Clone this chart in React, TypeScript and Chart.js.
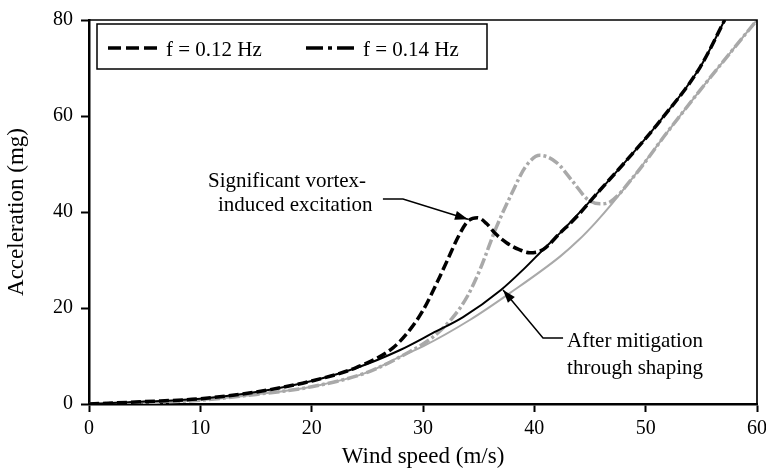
import { useEffect, useRef } from "react";
import { Chart, registerables } from "chart.js";

Chart.register(...registerables);

// ---- data (wind speed in m/s, acceleration in mg) ----
const speed012 = [0, 5, 10, 15, 20, 24, 27.3, 28.8, 30, 31.3, 32.2, 33.2, 34, 34.9, 35.7, 36.5, 37.5, 38.6, 39.6, 40.8, 42.3, 43.8, 45.3, 48.3, 51.3, 54.9, 57.1];
const accel012 = [0, 0.5, 1.1, 2.5, 4.8, 7.6, 11.7, 15.4, 19.5, 25.5, 30, 35, 38, 38.8, 37.6, 35.5, 33.6, 32.2, 31.5, 32.2, 35.6, 39, 43, 50.8, 59, 70.2, 80];

const speed012Mitigated = [0, 5, 10, 15, 20, 24, 27.9, 30.9, 33.6, 37, 39, 40.8, 42.3, 45.3, 48.3, 51.3, 54.9, 57.1];
const accel012Mitigated = [0, 0.5, 1.1, 2.5, 4.8, 7.5, 11.2, 14.8, 18.1, 23.75, 28, 32.2, 35.6, 43, 50.8, 59, 70.2, 80];

const speed014 = [0, 5, 10, 15, 20, 25, 28.8, 30.8, 32.7, 34, 35.1, 36.6, 38, 39.2, 40.5, 42, 43.5, 44.8, 45.9, 46.8, 48.9, 51.9, 54.9, 57.8, 60];
const accel014 = [0, 0.3, 0.8, 2, 3.6, 6.6, 10.9, 13.8, 18.1, 22.5, 27.9, 36.9, 44, 49.4, 51.8, 50.3, 46.2, 42.6, 41.7, 42.1, 47.3, 56.5, 65.4, 73.75, 80];

const speed014Mitigated = [0, 5, 10, 15, 20, 25, 27.9, 30, 34.2, 37.8, 42.3, 44, 45.5, 47, 48.9, 51.9, 54.9, 57.8, 60];
const accel014Mitigated = [0, 0.3, 0.8, 2, 3.6, 6.6, 9.8, 12, 17.5, 23.1, 30.7, 34.2, 37.8, 41.8, 47.3, 56.5, 65.4, 73.75, 80];

const xTicks = [0, 10, 20, 30, 40, 50, 60];
const yTicks = [0, 20, 40, 60, 80];
const legendLabels = ["f = 0.12 Hz", "f = 0.14 Hz"];
const vortexNote = ["Significant vortex-", "induced excitation"];
const mitigationNote = ["After mitigation", "through shaping"];
const xTitle = "Wind speed (m/s)";
const yTitle = "Acceleration (mg)";

const FONT = "'Liberation Serif', 'Times New Roman', serif";
const GRAY = "#a9a9a9";
const DASH = [10, 4];
const DASH_DOT = [11, 3, 3, 3];

const zip = (xs: number[], ys: number[]) => xs.map((x, i) => ({ x, y: ys[i] }));

function arrowHead(ctx: CanvasRenderingContext2D, fx: number, fy: number, tx: number, ty: number) {
  const ang = Math.atan2(ty - fy, tx - fx);
  const len = 13;
  const hw = 4.5;
  ctx.beginPath();
  ctx.moveTo(tx, ty);
  ctx.lineTo(tx - len * Math.cos(ang) + hw * Math.sin(ang), ty - len * Math.sin(ang) - hw * Math.cos(ang));
  ctx.lineTo(tx - len * Math.cos(ang) - hw * Math.sin(ang), ty - len * Math.sin(ang) + hw * Math.cos(ang));
  ctx.closePath();
  ctx.fill();
}

const decorPlugin = {
  id: "decor",
  afterDraw(chart: any) {
    const { ctx, chartArea: a, scales } = chart;
    const X = (v: number) => scales.x.getPixelForValue(v);
    const Y = (v: number) => scales.y.getPixelForValue(v);
    ctx.save();
    // top and right frame
    ctx.strokeStyle = "#000";
    ctx.lineWidth = 1.7;
    ctx.setLineDash([]);
    ctx.beginPath();
    ctx.moveTo(a.left, a.top);
    ctx.lineTo(a.right, a.top);
    ctx.lineTo(a.right, a.bottom);
    ctx.stroke();

    // legend box
    const lx = a.left + 8, ly = a.top + 4, lw = 390, lh = 45;
    ctx.fillStyle = "#fff";
    ctx.fillRect(lx, ly, lw, lh);
    ctx.lineWidth = 1.5;
    ctx.strokeRect(lx, ly, lw, lh);
    const midY = ly + 24;
    ctx.lineWidth = 3.5;
    ctx.lineCap = "butt";
    ctx.setLineDash([13, 5]);
    ctx.beginPath();
    ctx.moveTo(lx + 11, midY);
    ctx.lineTo(lx + 62, midY);
    ctx.stroke();
    ctx.setLineDash([17, 5, 4, 5]);
    ctx.beginPath();
    ctx.moveTo(lx + 209, midY);
    ctx.lineTo(lx + 258, midY);
    ctx.stroke();
    ctx.setLineDash([]);
    ctx.fillStyle = "#000";
    ctx.font = `21px ${FONT}`;
    ctx.textBaseline = "alphabetic";
    ctx.textAlign = "left";
    ctx.fillText(legendLabels[0], lx + 69, ly + 32);
    ctx.fillText(legendLabels[1], lx + 266, ly + 32);

    // vortex annotation
    ctx.fillText(vortexNote[0], X(10.69), Y(45.2));
    ctx.fillText(vortexNote[1], X(11.59), Y(40.2));
    ctx.lineWidth = 1.5;
    ctx.beginPath();
    ctx.moveTo(X(26.4), Y(42.7));
    ctx.lineTo(X(28.2), Y(42.7));
    ctx.lineTo(X(34.04), Y(38.5));
    ctx.stroke();
    arrowHead(ctx, X(28.2), Y(42.7), X(34.04), Y(38.5));

    // mitigation annotation
    ctx.fillText(mitigationNote[0], X(42.94), Y(11.875));
    ctx.fillText(mitigationNote[1], X(42.94), Y(6.25));
    ctx.beginPath();
    ctx.moveTo(X(42.58), Y(13.75));
    ctx.lineTo(X(40.78), Y(13.75));
    ctx.lineTo(X(37.19), Y(23.75));
    ctx.stroke();
    arrowHead(ctx, X(40.78), Y(13.75), X(37.19), Y(23.75));
    ctx.restore();
  },
};

export default function App() {
  const ref = useRef<HTMLCanvasElement | null>(null);
  useEffect(() => {
    if (!ref.current) return;
    const common = { pointRadius: 0, borderCapStyle: "butt", cubicInterpolationMode: "monotone", fill: false };
    const chart = new Chart(ref.current, {
      type: "line",
      data: {
        datasets: [
          { ...common, label: legendLabels[0], data: zip(speed012, accel012), borderColor: "#000", borderWidth: 3.5, borderDash: DASH, order: 1 },
          { ...common, label: "mitigated 0.12", data: zip(speed012Mitigated, accel012Mitigated), borderColor: "#000", borderWidth: 2, order: 2 },
          { ...common, label: legendLabels[1], data: zip(speed014, accel014), borderColor: GRAY, borderWidth: 3.5, borderDash: DASH_DOT, order: 3 },
          { ...common, label: "mitigated 0.14", data: zip(speed014Mitigated, accel014Mitigated), borderColor: GRAY, borderWidth: 2, order: 4 },
        ] as any,
      },
      options: {
        animation: false,
        responsive: false,
        events: [],
        layout: { padding: { top: 20, right: 9, left: 0, bottom: 0 } },
        plugins: { legend: { display: false }, tooltip: { enabled: false } },
        scales: {
          x: {
            type: "linear",
            min: 0,
            max: 60,
            afterBuildTicks: (s: any) => { s.ticks = xTicks.map((v) => ({ value: v })); },
            afterFit: (s: any) => { s.height = 67; s.paddingLeft = 0; s.paddingRight = 0; },
            ticks: { color: "#000", font: { family: FONT, size: 20 }, padding: 5, maxRotation: 0 },
            grid: { drawOnChartArea: false, drawTicks: true, tickLength: 8, tickWidth: 2, tickColor: "#000" },
            border: { display: true, color: "#000", width: 2.5 },
            title: { display: true, text: xTitle, color: "#000", font: { family: FONT, size: 23 }, padding: { top: 0, bottom: 0 } },
          },
          y: {
            type: "linear",
            min: 0,
            max: 80,
            afterBuildTicks: (s: any) => { s.ticks = yTicks.map((v) => ({ value: v })); },
            afterFit: (s: any) => { s.width = 89; s.paddingTop = 0; s.paddingBottom = 0; },
            ticks: { color: "#000", font: { family: FONT, size: 20 }, padding: 8 },
            grid: { drawOnChartArea: false, drawTicks: true, tickLength: 8, tickWidth: 2, tickColor: "#000" },
            border: { display: true, color: "#000", width: 2.5 },
            title: { display: true, text: yTitle, color: "#000", font: { family: FONT, size: 23 }, padding: { top: 3, bottom: 0 } },
          },
        },
      } as any,
      plugins: [decorPlugin],
    });
    return () => chart.destroy();
  }, []);
  return (
    <div style={{ position: "fixed", left: 0, top: 0, width: 766, height: 471, background: "#fff" }}>
      <canvas ref={ref} width={766} height={471} style={{ width: 766, height: 471, display: "block" }} />
    </div>
  );
}
